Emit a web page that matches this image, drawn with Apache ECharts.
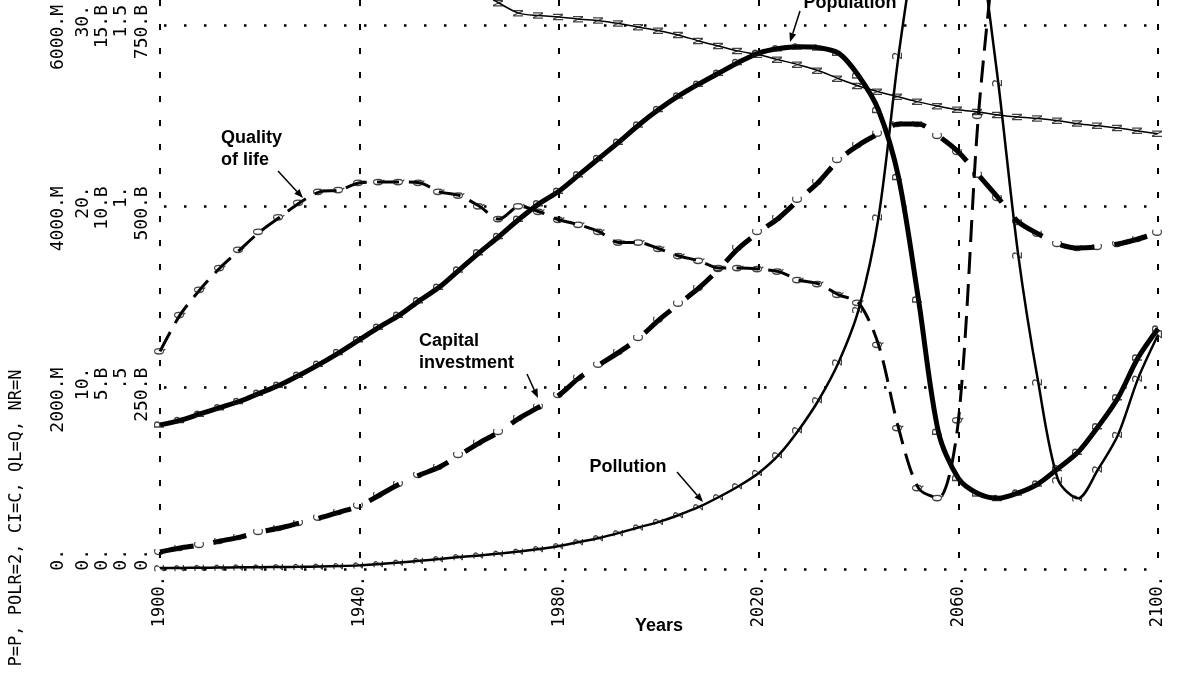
<!DOCTYPE html>
<html>
<head>
<meta charset="utf-8">
<title>World model run</title>
<script src="https://cdn.jsdelivr.net/npm/echarts@6/dist/echarts.min.js"></script>
<style>
  html, body { margin: 0; padding: 0; background: #fff; }
  #chart { width: 1183px; height: 675px; }
</style>
</head>
<body>
<div id="chart"></div>
<script>
// time axis, one printout row every 4 years
var years = [1900, 1904, 1908, 1912, 1916, 1920, 1924, 1928, 1932, 1936,
  1940, 1944, 1948, 1952, 1956, 1960, 1964, 1968, 1972, 1976,
  1980, 1984, 1988, 1992, 1996, 2000, 2004, 2008, 2012, 2016,
  2020, 2024, 2028, 2032, 2036, 2040, 2044, 2048, 2052, 2056,
  2060, 2064, 2068, 2072, 2076, 2080, 2084, 2088, 2092, 2096, 2100];

// P - population, millions
var population = [1590, 1640, 1710, 1780, 1850, 1940, 2030, 2140, 2260, 2390,
  2530, 2670, 2800, 2960, 3110, 3300, 3490, 3670, 3860, 4030,
  4170, 4350, 4530, 4710, 4900, 5070, 5220, 5350, 5470, 5590,
  5690, 5740, 5760, 5750, 5690, 5440, 5060, 4320, 2970, 1510,
  1000, 830, 780, 840, 940, 1110, 1290, 1570, 1890, 2330, 2650];

// POLR - pollution ratio
var pollution = [0.05, 0.06, 0.07, 0.08, 0.09, 0.10, 0.11, 0.12, 0.14, 0.16,
  0.20, 0.28, 0.36, 0.45, 0.55, 0.66, 0.75, 0.85, 0.96, 1.10,
  1.27, 1.49, 1.71, 1.99, 2.30, 2.60, 2.98, 3.42, 3.97, 4.58,
  5.30, 6.29, 7.67, 9.32, 11.4, 14.3, 19.4, 28.3, 35.8, 43.0,
  43.5, 35.3, 26.8, 17.3, 10.3, 4.9, 3.9, 5.5, 7.4, 10.5, 12.9];

// CI - capital investment, billions
var capital = [0.47, 0.58, 0.66, 0.77, 0.88, 1.02, 1.13, 1.27, 1.41, 1.57,
  1.74, 2.04, 2.34, 2.59, 2.81, 3.14, 3.48, 3.78, 4.16, 4.47,
  4.80, 5.27, 5.63, 5.98, 6.37, 6.87, 7.31, 7.75, 8.27, 8.85,
  9.29, 9.68, 10.18, 10.67, 11.28, 11.69, 12.0, 12.27, 12.27, 11.94,
  11.5, 10.87, 10.23, 9.57, 9.24, 8.96, 8.85, 8.88, 8.96, 9.1, 9.27];

// QL - quality of life (leaves the top of the sheet after 2064)
var quality = [0.60, 0.70, 0.77, 0.83, 0.88, 0.93, 0.97, 1.01, 1.04, 1.045,
  1.065, 1.067, 1.067, 1.065, 1.04, 1.03, 1.00, 0.965, 1.00, 0.985,
  0.963, 0.949, 0.93, 0.90, 0.90, 0.883, 0.863, 0.85, 0.83, 0.83,
  0.827, 0.82, 0.797, 0.786, 0.756, 0.734, 0.618, 0.389, 0.223, 0.196,
  0.41, 1.25, 1.8];

// NR - natural resources, billions (above the sheet before ~1966)
var resources = [900, 899, 897, 895, 893, 890, 887, 883, 878, 872,
  865, 857, 847, 836, 824, 811, 797, 780, 766, 763,
  761, 758, 756, 752, 747, 742, 736, 728, 721, 714,
  709, 702, 695, 687, 676, 666, 658, 651, 644, 638,
  633, 630, 626, 623, 621, 618, 614, 611, 608, 604, 600];

// scale labels, one column per variable
var pTicks = ['0.', '2000.M', '4000.M', '6000.M'];
var polrTicks = ['0.', '10.', '20.', '30.'];
var ciTicks = ['0.', '5.B', '10.B', '15.B'];
var qlTicks = ['0.', '.5', '1.', '1.5'];
var nrTicks = ['0.', '250.B', '500.B', '750.B'];

var MONO = '"DejaVu Sans Mono", "Liberation Mono", monospace';
var SANS = '"Liberation Sans", Arial, Helvetica, sans-serif';

var chart = echarts.init(document.getElementById('chart'));

function pairs(vals) {
	var out = [];
	for (var i = 0; i < vals.length; i++) {
		out.push([years[i], vals[i]]);
	}
	return out;
}

// the sheet top sits a bit above the last printed grid line;
// printed scale numbers end about 20px above their grid line
function yAxis(step, ticks, margin, withGrid) {
	var shift = step * 3 * 20 / 544;
	var spots = [];
	for (var k = 0; k < ticks.length; k++) {
		spots.push(k * step + shift);
	}
	return {
		type: 'value',
		position: 'left',
		min: 0,
		max: step * 3 * 569 / 544,
		interval: step,
		axisLine: { show: false },
		axisTick: { show: false },
		splitLine: withGrid ? {
			show: true,
			showMaxLine: false,
			lineStyle: { color: '#000', width: 2.5, type: [2.5, 17.5], dashOffset: -4 }
		} : { show: false },
		axisLabel: {
			customValues: spots,
			rotate: 90,
			align: 'right',
			verticalAlign: 'middle',
			margin: margin,
			fontFamily: MONO,
			fontSize: 18,
			color: '#000',
			formatter: function(v) {
				var k = Math.round((v - shift) / step);
				return ticks[k] || '';
			}
		}
	};
}

function curve(vals, yIdx, width, dash) {
	return {
		type: 'line',
		yAxisIndex: yIdx,
		data: pairs(vals),
		showSymbol: false,
		smooth: 0.3,
		silent: true,
		lineStyle: { color: '#000', width: width, type: dash || 'solid' },
		z: 2
	};
}

// printed plot characters along each curve
function chars(vals, yIdx, ch) {
	return {
		type: 'scatter',
		yAxisIndex: yIdx,
		data: pairs(vals),
		symbolSize: 1,
		silent: true,
		itemStyle: { color: 'rgba(0,0,0,0)' },
		label: {
			show: true,
			position: 'inside',
			formatter: ch,
			rotate: 90,
			fontFamily: MONO,
			fontSize: 14,
			color: '#111'
		},
		z: 3
	};
}

function arrow(x1, y1, x2, y2) {
	var a = Math.atan2(y2 - y1, x2 - x1), L = 9, W = 3.5;
	var bx = x2 - L * Math.cos(a), by = y2 - L * Math.sin(a);
	var px = -Math.sin(a) * W, py = Math.cos(a) * W;
	return [{
		type: 'line',
		shape: { x1: x1, y1: y1, x2: bx, y2: by },
		style: { stroke: '#000', lineWidth: 1.5 }
	}, {
		type: 'polygon',
		shape: { points: [[x2, y2], [bx + px, by + py], [bx - px, by - py]] },
		style: { fill: '#000' }
	}];
}

function note(x, y, text, align) {
	return {
		type: 'text',
		x: x,
		y: y,
		style: {
			text: text,
			font: 'bold 18px ' + SANS,
			fill: '#000',
			align: align || 'center',
			verticalAlign: 'middle',
			lineHeight: 22
		}
	};
}

var graphics = [
	{
		type: 'text',
		x: 17,
		y: 518,
		rotation: Math.PI / 2,
		style: {
			text: 'P=P, POLR=2, CI=C, QL=Q, NR=N',
			font: '17px ' + MONO,
			fill: '#000',
			align: 'center',
			verticalAlign: 'middle'
		}
	},
	note(850, 3, 'Population'),
	note(221, 149, 'Quality\nof life', 'left'),
	note(419, 352, 'Capital\ninvestment', 'left'),
	note(628, 467, 'Pollution')
].concat(
	arrow(800, 11, 790, 42),
	arrow(278, 171, 303, 198),
	arrow(527, 374, 538, 398),
	arrow(677, 472, 703, 502)
);

var option = {
	animation: false,
	backgroundColor: '#fff',
	textStyle: { fontFamily: MONO },
	grid: { left: 160, right: 25, top: 0, bottom: 106, outerBoundsMode: 'none' },
	xAxis: {
		type: 'value',
		min: 1900,
		max: 2100,
		interval: 40,
		name: 'Years',
		nameLocation: 'middle',
		nameGap: 57,
		nameMoveOverlap: false,
		nameTextStyle: {
			fontFamily: SANS,
			fontWeight: 'bold',
			fontSize: 18,
			color: '#000',
			verticalAlign: 'middle'
		},
		axisLine: { show: false },
		axisTick: { show: false },
		splitLine: {
			show: true,
			lineStyle: { color: '#000', width: 2, type: [6, 18] }
		},
		axisLabel: {
			rotate: 90,
			align: 'right',
			verticalAlign: 'middle',
			margin: 7,
			fontFamily: MONO,
			fontSize: 17,
			color: '#000',
			formatter: function(v) {
				return v + '.';
			}
		}
	},
	yAxis: [
		yAxis(2000, pTicks, 102, true),
		yAxis(10, polrTicks, 77, false),
		yAxis(5, ciTicks, 58, false),
		yAxis(0.5, qlTicks, 39, false),
		yAxis(250, nrTicks, 18, false)
	],
	series: [
		curve(resources, 4, 1.5),
		curve(pollution, 1, 2.5),
		curve(quality, 3, 3, [22, 10]),
		curve(capital, 2, 5, [34, 20]),
		curve(population, 0, 5),
		chars(resources, 4, 'N'),
		chars(pollution, 1, '2'),
		chars(quality, 3, 'Q'),
		chars(capital, 2, 'C'),
		chars(population, 0, 'P')
	],
	graphic: graphics
};

chart.setOption(option);
</script>
</body>
</html>
